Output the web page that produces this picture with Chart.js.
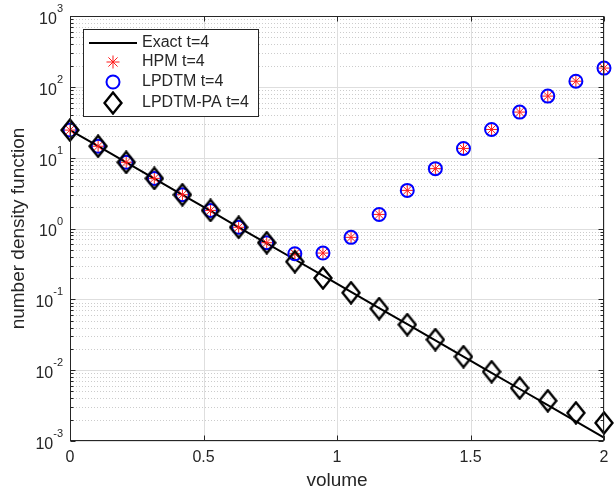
<!DOCTYPE html>
<html lang="en">
<head>
<meta charset="UTF-8">
<title>Number density function, t=4</title>
<script src="https://cdn.jsdelivr.net/npm/chart.js"></script>
<style>
    body { margin: 0; background: #fff; }
    #wrap { width: 615px; height: 492px; }
</style>
</head>
<body>
<div id="wrap"><canvas id="chart" width="615" height="492"></canvas></div>
<script>
// values (20 nodes on [0, 2])
const volume = [0, 0.1053, 0.2105, 0.3158, 0.4211, 0.5263, 0.6316, 0.7368, 0.8421, 0.9474,
                1.0526, 1.1579, 1.2632, 1.3684, 1.4737, 1.5789, 1.6842, 1.7895, 1.8947, 2.0];
const exact = [24.5, 14.5, 8.55, 5.06, 2.99, 1.77, 1.04, 0.617, 0.365, 0.216,
               0.127, 0.0752, 0.0445, 0.0263, 0.0155, 0.00918, 0.00542, 0.00321, 0.00189, 0.00112];
const hpm = [24.5, 14.5, 8.6, 5.1, 3.0, 1.8, 1.04, 0.63, 0.44, 0.45,
             0.75, 1.58, 3.45, 7.0, 13.5, 25, 44, 74, 120, 184];
const lpdtm = [24.5, 14.5, 8.6, 5.1, 3.0, 1.8, 1.04, 0.63, 0.44, 0.45,
               0.75, 1.58, 3.45, 7.0, 13.5, 25, 44, 74, 120, 184];
const lpdtmPa = [24.5, 14.5, 8.6, 5.1, 3.0, 1.8, 1.04, 0.63, 0.34, 0.20,
                 0.124, 0.074, 0.044, 0.027, 0.0155, 0.0095, 0.0056, 0.0037, 0.0025, 0.0018];
const seriesNames = ['Exact t=4', 'HPM t=4', 'LPDTM t=4', 'LPDTM-PA t=4'];
const xTicks = [0, 0.5, 1, 1.5, 2];
const xTickLabels = ['0', '0.5', '1', '1.5', '2'];
const yExponents = [-3, -2, -1, 0, 1, 2, 3];

const FONT = '"Liberation Sans", Arial, sans-serif';
const AXIS = '#262626';

function pts(vals) {
    return volume.map((v, i) => ({ x: v, y: vals[i] }));
}

// MATLAB style diamond: a bit taller than wide
function diamondMarker() {
    const c = document.createElement('canvas');
    c.width = 20; c.height = 24;
    const g = c.getContext('2d');
    g.strokeStyle = '#000';
    g.lineWidth = 2.4;
    g.lineJoin = 'miter';
    g.beginPath();
    g.moveTo(10, 1.5);
    g.lineTo(18.5, 12);
    g.lineTo(10, 22.5);
    g.lineTo(1.5, 12);
    g.closePath();
    g.stroke();
    return c;
}
const diamond = diamondMarker();

const datasets = [
    { label: seriesNames[0], data: pts(exact), showLine: true, borderColor: '#000', borderWidth: 2,
      pointRadius: 0, order: 4 },
    { label: seriesNames[1], data: pts(hpm), showLine: false, pointStyle: 'star', pointRadius: 6.5,
      borderColor: '#ff1a1a', backgroundColor: '#ff1a1a', borderWidth: 1, order: 3 },
    { label: seriesNames[2], data: pts(lpdtm), showLine: false, pointStyle: 'circle', pointRadius: 6.5,
      borderColor: '#0000ff', backgroundColor: 'rgba(0,0,0,0)', borderWidth: 2, order: 2 },
    { label: seriesNames[3], data: pts(lpdtmPa), showLine: false, pointStyle: diamond, pointRadius: 9,
      borderColor: '#000', backgroundColor: 'rgba(0,0,0,0)', borderWidth: 2, order: 1 }
];
datasets.forEach(d => { d.clip = false; d.pointHoverRadius = d.pointRadius; });

function line(ctx, x1, y1, x2, y2) {
    ctx.beginPath();
    ctx.moveTo(x1, y1);
    ctx.lineTo(x2, y2);
    ctx.stroke();
}

const matlabAxes = {
    id: 'matlabAxes',
    beforeDatasetsDraw(chart) {
        const { ctx, chartArea: a, scales: { x, y } } = chart;
        ctx.save();
        ctx.lineWidth = 1;
        // minor y grid (dotted)
        ctx.strokeStyle = '#cccccc';
        ctx.setLineDash([1, 2]);
        yExponents.slice(0, -1).forEach(e => {
            for (let m = 2; m <= 9; m++) {
                const py = Math.round(y.getPixelForValue(m * Math.pow(10, e))) + 0.5;
                line(ctx, a.left, py, a.right, py);
            }
        });
        // major grid
        ctx.setLineDash([]);
        ctx.strokeStyle = '#dedede';
        yExponents.forEach(e => {
            const py = Math.round(y.getPixelForValue(Math.pow(10, e))) + 0.5;
            line(ctx, a.left, py, a.right, py);
        });
        xTicks.forEach(v => {
            const px = Math.round(x.getPixelForValue(v)) + 0.5;
            line(ctx, px, a.top, px, a.bottom);
        });
        ctx.restore();
    },
    afterDraw(chart) {
        const { ctx, chartArea: a, scales: { x, y } } = chart;
        ctx.save();
        ctx.strokeStyle = AXIS;
        ctx.lineWidth = 1;
        const L = Math.round(a.left) + 0.5, R = Math.round(a.right) - 0.5;
        const T = Math.round(a.top) + 0.5, B = Math.round(a.bottom) - 0.5;
        ctx.strokeRect(L, T, R - L, B - T);

        // inward ticks
        xTicks.forEach(v => {
            const px = Math.round(x.getPixelForValue(v)) + 0.5;
            line(ctx, px, B, px, B - 5);
            line(ctx, px, T, px, T + 5);
        });
        yExponents.forEach((e, k) => {
            for (let m = 1; m <= 9; m++) {
                if (m > 1 && k === yExponents.length - 1) break;
                const py = Math.round(y.getPixelForValue(m * Math.pow(10, e))) + 0.5;
                const len = m === 1 ? 5 : 3;
                line(ctx, L, py, L + len, py);
                line(ctx, R, py, R - len, py);
            }
        });

        // tick labels
        ctx.fillStyle = AXIS;
        ctx.textBaseline = 'middle';
        ctx.textAlign = 'center';
        ctx.font = '16px ' + FONT;
        xTicks.forEach((v, i) => {
            ctx.fillText(xTickLabels[i], x.getPixelForValue(v), a.bottom + 17);
        });
        yExponents.forEach(e => {
            const py = y.getPixelForValue(Math.pow(10, e));
            const sup = String(e);
            ctx.font = '11px ' + FONT;
            const wSup = ctx.measureText(sup).width;
            const right = 63;
            ctx.textAlign = 'left';
            ctx.fillText(sup, right - wSup, py - 7);
            ctx.font = '16px ' + FONT;
            ctx.textAlign = 'right';
            ctx.fillText('10', right - wSup, py + 3.5);
        });

        // axis titles
        ctx.font = '19px ' + FONT;
        ctx.textAlign = 'center';
        ctx.fillText('volume', (a.left + a.right) / 2, 481);
        ctx.save();
        ctx.translate(19, (a.top + a.bottom) / 2);
        ctx.rotate(-Math.PI / 2);
        ctx.fillText('number density function', 0, 0);
        ctx.restore();

        // legend box
        const bx = 83.5, by = 29.5, bw = 175, bh = 87;
        ctx.fillStyle = '#fff';
        ctx.fillRect(bx, by, bw, bh);
        ctx.strokeStyle = AXIS;
        ctx.lineWidth = 1;
        ctx.strokeRect(bx, by, bw, bh);
        const rows = [43, 62, 82, 103];
        chart.data.datasets.forEach((d, i) => {
            const ry = rows[i];
            ctx.save();
            if (d.showLine) {
                ctx.strokeStyle = d.borderColor;
                ctx.lineWidth = d.borderWidth;
                line(ctx, 89, ry, 137, ry);
            } else {
                ctx.strokeStyle = d.borderColor;
                ctx.fillStyle = d.backgroundColor;
                ctx.lineWidth = d.borderWidth;
                Chart.helpers.drawPoint(ctx, {
                    pointStyle: d.pointStyle, radius: d.pointRadius, rotation: 0,
                    borderWidth: d.borderWidth
                }, 113, ry);
            }
            ctx.restore();
            ctx.fillStyle = AXIS;
            ctx.font = '16px ' + FONT;
            ctx.textAlign = 'left';
            ctx.textBaseline = 'middle';
            ctx.fillText(d.label, 142, ry);
        });
        ctx.restore();
    }
};

new Chart(document.getElementById('chart').getContext('2d'), {
    type: 'scatter',
    data: { datasets: datasets },
    options: {
        responsive: false,
        animation: false,
        events: [],
        layout: { padding: { top: 16, right: 6, left: 0, bottom: 0 } },
        plugins: { legend: { display: false }, tooltip: { enabled: false } },
        scales: {
            x: {
                type: 'linear', min: 0, max: 2,
                ticks: { display: false },
                grid: { display: false },
                border: { display: false },
                afterFit: s => { s.height = 51; }
            },
            y: {
                type: 'logarithmic', min: 1e-3, max: 1e3,
                ticks: { display: false },
                grid: { display: false },
                border: { display: false },
                afterFit: s => { s.width = 70; }
            }
        }
    },
    plugins: [matlabAxes]
});
</script>
</body>
</html>
